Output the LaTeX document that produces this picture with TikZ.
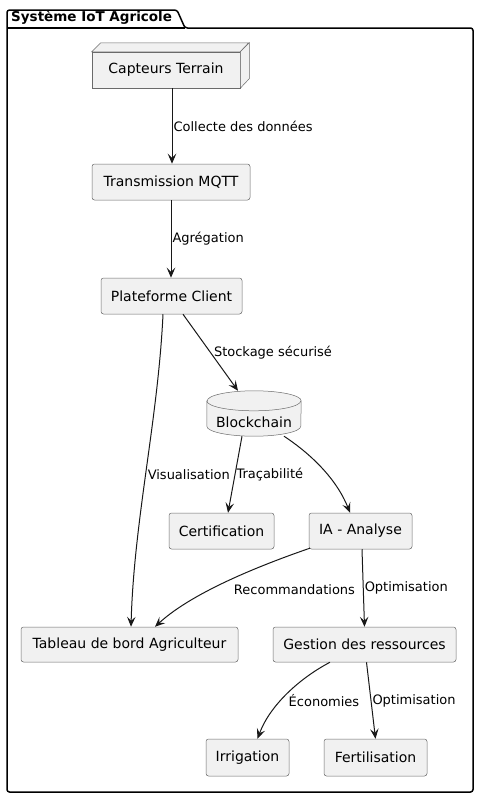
\documentclass[tikz,border=0pt]{standalone}
\usepackage{fontspec}
\setmainfont{DejaVu Sans}
\usetikzlibrary{arrows.meta, positioning, backgrounds, calc}
\definecolor{boxfill}{HTML}{F1F1F1}
\definecolor{boxline}{HTML}{181818}
\definecolor{boxedge}{HTML}{6A6A6A}

\begin{document}
\begin{tikzpicture}[
    x=1pt, y=-1pt,
    box/.style={rectangle, draw=boxedge, fill=boxfill, line width=0.5pt, rounded corners=2.5pt, minimum height=36pt, inner sep=0pt, font=\fontsize{14}{16}\selectfont},
    lbl/.style={font=\fontsize{13}{15}\selectfont, inner sep=1pt, text=black},
    link/.style={draw=boxline, line width=1pt, -{Stealth[length=10pt, width=8.5pt, inset=4pt]}},
    pkg/.style={draw=black, line width=1.5pt},
]
\useasboundingbox (0,0) rectangle (479,798);

% Package frame
\draw[pkg, rounded corners=2.5pt] (7,10) -- (177,10) -- (185,28) -- (473,28) -- (473,792) -- (7,792) -- cycle;
\draw[pkg] (7,28) -- (185,28);
\node[anchor=west, inner sep=0pt, font=\fontsize{13.5}{16}\selectfont\bfseries] (pkgtitle) at (11,18) {Système IoT Agricole};

% Capteurs (3D node)
\node[box, rounded corners=0pt, minimum width=148pt] (capteurs) at (166,70) {Capteurs Terrain};
\draw[draw=boxedge, fill=boxfill, line width=0.5pt] (capteurs.north west) -- ++(9,-9) -- ++(148,0) -- (capteurs.north east) -- cycle;
\draw[draw=boxedge, fill=boxfill, line width=0.5pt] (capteurs.north east) -- ++(9,-9) -- ++(0,36) -- (capteurs.south east) -- cycle;

% Transmission
\node[box, minimum width=158pt] (transmission) at (171,182) {Transmission MQTT};

% Plateforme
\node[box, minimum width=141pt] (plateforme) at (171.5,296) {Plateforme Client};

% Blockchain (database)
\node[minimum width=94pt, minimum height=45pt, inner sep=0pt,
      label={[yshift=-9pt, font=\fontsize{14}{16}\selectfont]center:Blockchain}] (blockchain) at (254,413.5) {};
\begin{scope}[on background layer]
\draw[draw=boxedge, fill=boxfill, line width=0.5pt] ([yshift=-10pt]blockchain.north west) -- ([yshift=10pt]blockchain.south west)
    arc[start angle=180, end angle=360, x radius=47pt, y radius=10pt] -- ([yshift=-10pt]blockchain.north east)
    arc[start angle=0, end angle=180, x radius=47pt, y radius=10pt];
\draw[draw=boxedge, line width=0.5pt] ([yshift=-10pt]blockchain.north west) arc[start angle=180, end angle=360, x radius=47pt, y radius=10pt];
\end{scope}

% Certification and analysis
\node[box, minimum width=105pt] (certification) at (221.5,531) {Certification};
\node[box, minimum width=103pt] (ia) at (360.5,531) {IA - Analyse};

% Tableau de bord and resources
\node[box, minimum width=217pt, minimum height=35pt] (tableau) at (129.5,644.5) {Tableau de bord Agriculteur};
\node[box, minimum width=183pt, minimum height=35pt] (gestion) at (364.5,644.5) {Gestion des ressources};

% Irrigation, Fertilisation
\node[box, minimum width=83pt, minimum height=37pt] (irrigation) at (247.5,757.5) {Irrigation};
\node[box, minimum width=103pt, minimum height=37pt] (fertilisation) at (375.5,757.5) {Fertilisation};

% Arrows
\draw[link] ([xshift=6pt]capteurs.south) -- node[lbl, right] {Collecte des données} ([xshift=1pt]transmission.north);
\draw[link] (transmission.south) -- node[lbl, right] {Agrégation} (transmission.south |- plateforme.north);
\draw[link] ([xshift=11.5pt]plateforme.south) -- node[lbl, right, xshift=2pt] {Stockage sécurisé} ([xshift=-16pt]blockchain.north);
\draw[link] ([xshift=-8.5pt]plateforme.south) .. controls (158,420) and (134,520) .. node[lbl, right, yshift=-5pt] {Visualisation} ([xshift=1.5pt]tableau.north);
\draw[link] ([xshift=-12pt]blockchain.south) -- node[lbl, right] {Traçabilité} ([xshift=6.5pt]certification.north);
\draw[link] ([xshift=30pt]blockchain.south) .. controls (305,450) and (335,475) .. ([xshift=-10.5pt]ia.north);
\draw[link] ([xshift=1pt,yshift=1pt]ia.south west) .. controls (270,562) and (195,590) .. node[lbl, below right, yshift=-4pt] {Recommandations} ([xshift=25.5pt]tableau.north);
\draw[link] ([xshift=1.5pt]ia.south) -- node[lbl, right] {Optimisation} (gestion.north);
\draw[link] ([xshift=-34.5pt]gestion.south) .. controls (300,678) and (270,705) .. node[lbl, right, yshift=-7pt] {Économies} ([xshift=10pt]irrigation.north);
\draw[link] ([xshift=2pt]gestion.south) -- node[lbl, right] {Optimisation} (fertilisation.north);

\end{tikzpicture}
\end{document}
